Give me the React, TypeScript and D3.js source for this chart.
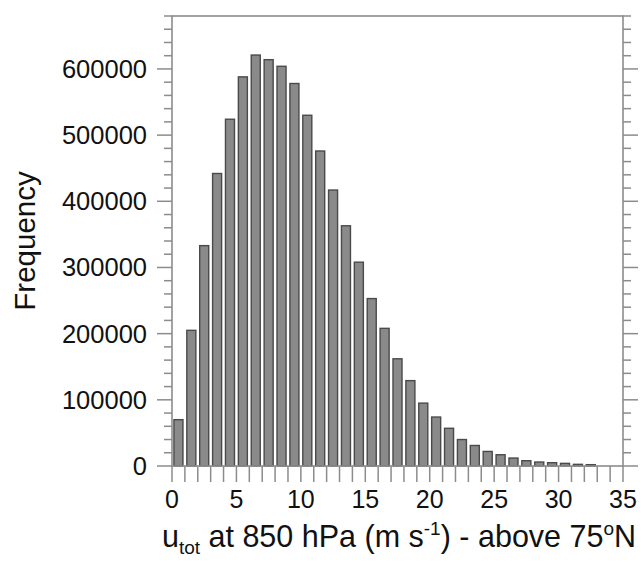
import React from "react";
import * as d3 from "d3";

// Histogram bin counts, one per 1 m/s bin starting at 0
const binStarts = d3.range(0, 33);
const frequencies = [
  70000, 205000, 333000, 442000, 524000, 588000, 621000, 614000, 604000, 578000,
  530000, 476000, 417000, 363000, 308000, 253000, 208000, 162000, 129000, 95000,
  74000, 57000, 40000, 31000, 22000, 17000, 12000, 8000, 6000, 5000,
  4000, 2500, 2000,
];
const xLabelTicks = [0, 5, 10, 15, 20, 25, 30, 35];
const xMinorTicks = d3.range(0, 36);
const yLabelTicks = [0, 100000, 200000, 300000, 400000, 500000, 600000];
const yMinorTicks = d3.range(0, 680001, 20000);

const W = 641;
const H = 563;
const FONT = "'Liberation Sans', Arial, Helvetica, sans-serif";

export default function App() {
  const x = d3.scaleLinear().domain([0, 35]).range([172, 623]);
  const y = d3.scaleLinear().domain([0, 680000]).range([466, 16]);
  const [x0, x1] = x.range();
  const [y0, y1] = y.range();
  const frameColor = "#8c8c8c";
  const barW = 0.7;

  return (
    <svg
      width={W}
      height={H}
      style={{ position: "absolute", left: 0, top: 0, background: "#fff" }}
      fontFamily={FONT}
    >
      {/* bars */}
      {binStarts.map((b, i) => (
        <rect
          key={b}
          x={x(b + (1 - barW) / 2)}
          y={y(frequencies[i])}
          width={x(b + barW) - x(b)}
          height={y0 - y(frequencies[i])}
          fill="#8a8a8a"
          stroke="#4a4a4a"
          strokeWidth={1.4}
        />
      ))}

      {/* frame */}
      <rect
        x={x0}
        y={y1}
        width={x1 - x0}
        height={y0 - y1}
        fill="none"
        stroke={frameColor}
        strokeWidth={1.6}
      />

      {/* y ticks, left and right */}
      {yMinorTicks.map((v) => {
        const major = v % 100000 === 0;
        const len = major ? 15 : 8;
        return (
          <g key={v} stroke={frameColor} strokeWidth={1.5}>
            <line x1={x0 - len} x2={x0} y1={y(v)} y2={y(v)} />
            <line x1={x1} x2={x1 + len} y1={y(v)} y2={y(v)} />
          </g>
        );
      })}

      {/* x ticks */}
      {xMinorTicks.map((v) => (
        <line
          key={v}
          x1={x(v)}
          x2={x(v)}
          y1={y0}
          y2={y0 + 16}
          stroke={frameColor}
          strokeWidth={1.5}
        />
      ))}

      {/* y tick labels */}
      {yLabelTicks.map((v) => (
        <text
          key={v}
          x={147}
          y={y(v) + 9}
          textAnchor="end"
          fontSize={25.5}
          fill="#111"
        >
          {v}
        </text>
      ))}

      {/* x tick labels */}
      {xLabelTicks.map((v) => (
        <text
          key={v}
          x={x(v)}
          y={508}
          textAnchor="middle"
          fontSize={25}
          fill="#111"
        >
          {v}
        </text>
      ))}

      {/* axis titles */}
      <text
        transform={`translate(35, 241) rotate(-90)`}
        textAnchor="middle"
        fontSize={29.5}
        fill="#111"
      >
        Frequency
      </text>
      <text x={399} y={547} textAnchor="middle" fontSize={30.5} fill="#111">
        u
        <tspan fontSize={19} dy={7}>tot</tspan>
        <tspan dy={-7}> at 850 hPa (m s</tspan>
        <tspan fontSize={19} dy={-12}>-1</tspan>
        <tspan dy={12}>) - above 75</tspan>
        <tspan fontSize={19} dy={-12}>o</tspan>
        <tspan dy={12}>N</tspan>
      </text>
    </svg>
  );
}
